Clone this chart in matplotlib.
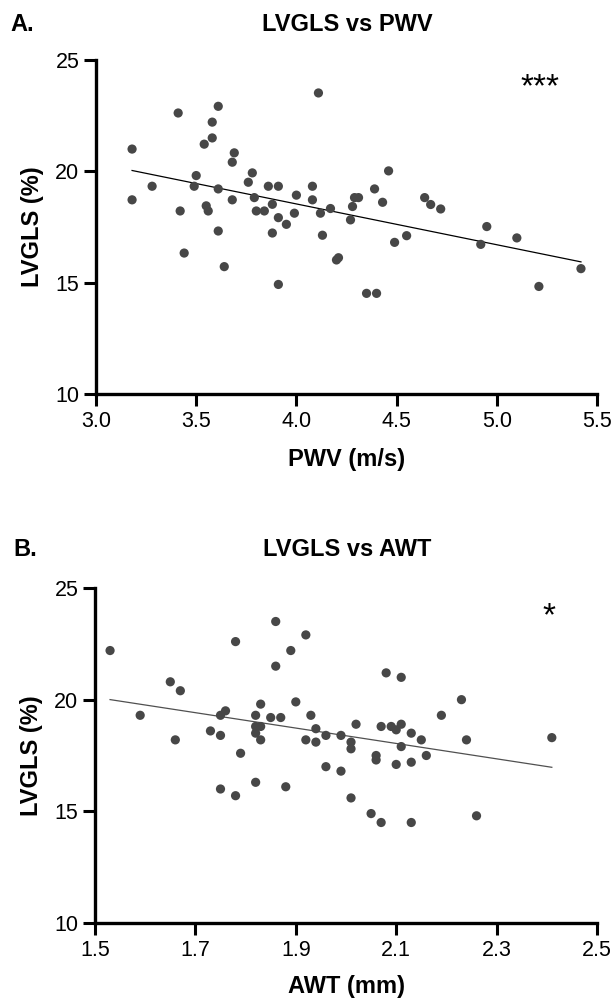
import numpy as np
import matplotlib
matplotlib.use("Agg")
import matplotlib.pyplot as plt

plt.rcParams['font.family'] = ['Liberation Sans', 'DejaVu Sans']

# ---------------- Panel A data: PWV (m/s) vs LVGLS (%) ----------------
pwv = [3.18, 3.18, 3.28, 3.41, 3.42, 3.44, 3.50, 3.49, 3.54, 3.55,
       3.56, 3.58, 3.58, 3.61, 3.61, 3.61, 3.64, 3.68, 3.69, 3.68,
       3.76, 3.78, 3.79, 3.80, 3.84, 3.86, 3.88, 3.88, 3.91, 3.91,
       3.91, 3.95, 3.99, 4.00, 4.08, 4.08, 4.11, 4.12, 4.13, 4.17,
       4.20, 4.21, 4.27, 4.28, 4.29, 4.31, 4.39, 4.43, 4.46, 4.49,
       4.55, 4.64, 4.67, 4.72, 4.92, 4.95, 5.10, 5.21, 5.42, 4.35,
       4.40]
lvgls_a = [21.0, 18.72, 19.33, 22.62, 18.22, 16.33, 19.81, 19.33, 21.22, 18.45,
           18.22, 21.50, 22.21, 22.92, 19.21, 17.32, 15.72, 20.41, 20.83, 18.72,
           19.51, 19.93, 18.82, 18.22, 18.22, 19.33, 18.52, 17.23, 19.33, 17.92,
           14.92, 17.62, 18.12, 18.93, 19.33, 18.72, 23.52, 18.12, 17.13, 18.33,
           16.02, 16.12, 17.82, 18.42, 18.82, 18.82, 19.21, 18.61, 20.02, 16.81,
           17.11, 18.82, 18.51, 18.31, 16.72, 17.52, 17.01, 14.83, 15.63, 14.52,
           14.52]

# ---------------- Panel B data: AWT (mm) vs LVGLS (%) ----------------
awt = [1.53, 1.59, 1.65, 1.67, 1.66, 1.73, 1.75, 1.76, 1.75, 1.75,
       1.78, 1.78, 1.79, 1.82, 1.83, 1.82, 1.83, 1.82, 1.83, 1.82,
       1.85, 1.87, 1.86, 1.86, 1.88, 1.89, 1.90, 1.92, 1.93, 1.94,
       1.92, 1.94, 1.96, 1.96, 1.99, 1.99, 2.01, 2.01, 2.01, 2.02,
       2.05, 2.07, 2.08, 2.11, 2.07, 2.09, 2.10, 2.11, 2.13, 2.11,
       2.06, 2.06, 2.10, 2.13, 2.15, 2.16, 2.19, 2.23, 2.24, 2.41,
       2.13, 2.26]
lvgls_b = [22.2, 19.3, 20.8, 20.4, 18.2, 18.6, 19.3, 19.5, 18.4, 16.0,
           22.6, 15.7, 17.6, 19.3, 19.8, 18.8, 18.8, 18.5, 18.2, 16.3,
           19.2, 19.2, 23.5, 21.5, 16.1, 22.2, 19.9, 22.9, 19.3, 18.7,
           18.2, 18.1, 18.4, 17.0, 18.4, 16.8, 18.1, 17.8, 15.6, 18.9,
           14.9, 14.5, 21.2, 21.0, 18.8, 18.8, 18.65, 18.9, 18.5, 17.9,
           17.5, 17.3, 17.1, 17.2, 18.2, 17.5, 19.3, 20.0, 18.2, 18.3,
           14.5, 14.8]

xticks_a = [3.0, 3.5, 4.0, 4.5, 5.0, 5.5]
xticks_b = [1.5, 1.7, 1.9, 2.1, 2.3, 2.5]
yticks = [10, 15, 20, 25]

W, H = 612, 1002
fig = plt.figure(figsize=(W / 100, H / 100), dpi=100)


def px_rect(left, top, right, bottom):
    return [left / W, 1 - bottom / H, (right - left) / W, (bottom - top) / H]


point_color = '#474747'
BOLD = 17


def style(ax):
    for s in ['top', 'right']:
        ax.spines[s].set_visible(False)
    for s in ['left', 'bottom']:
        ax.spines[s].set_linewidth(2.4)
        ax.spines[s].set_color('black')
    ax.tick_params(axis='both', direction='out', length=8.5, width=2.2,
                   labelsize=15.5, pad=3.5, colors='black')
    ax.set_ylim(10, 25)
    ax.set_yticks(yticks)
    ax.set_ylabel('LVGLS (%)', fontsize=BOLD, fontweight='bold', labelpad=8)


# Panel A
axA = fig.add_axes(px_rect(96, 60, 597, 394))
axA.scatter(pwv, lvgls_a, s=44, color=point_color, edgecolors='none', zorder=3, clip_on=False)
ka, ba = np.polyfit(pwv, lvgls_a, 1)
xa = np.array([min(pwv), max(pwv)])
axA.plot(xa, ka * xa + ba, color='black', lw=0.9, zorder=2)
axA.set_xlim(3.0, 5.5)
axA.set_xticks(xticks_a)
axA.set_xticklabels([f'{v:.1f}' for v in xticks_a])
style(axA)
axA.set_xlabel('PWV (m/s)', fontsize=BOLD, fontweight='bold', labelpad=12)
axA.text(5.215, 23.75, '***', fontsize=24, ha='center', va='center')

# Panel B
axB = fig.add_axes(px_rect(95, 588, 597, 923))
axB.scatter(awt, lvgls_b, s=44, color=point_color, edgecolors='none', zorder=3, clip_on=False)
kb, bb = np.polyfit(awt, lvgls_b, 1)
xb = np.array([min(awt), max(awt)])
axB.plot(xb, kb * xb + bb, color='#505050', lw=0.9, zorder=2)
axB.set_xlim(1.5, 2.5)
axB.set_xticks(xticks_b)
axB.set_xticklabels([f'{v:.1f}' for v in xticks_b])
style(axB)
axB.set_xlabel('AWT (mm)', fontsize=BOLD, fontweight='bold', labelpad=10)
axB.text(2.405, 23.7, '*', fontsize=24, ha='center', va='center')

# Titles and panel letters (baseline positions in pixels)
fig.text(347 / W, 1 - 31 / H, 'LVGLS vs PWV', fontsize=BOLD, fontweight='bold',
         ha='center', va='baseline')
fig.text(10 / W, 1 - 31 / H, 'A.', fontsize=BOLD, fontweight='bold', ha='left', va='baseline')
fig.text(347 / W, 1 - 556 / H, 'LVGLS vs AWT', fontsize=BOLD, fontweight='bold',
         ha='center', va='baseline')
fig.text(13 / W, 1 - 556 / H, 'B.', fontsize=BOLD, fontweight='bold', ha='left', va='baseline')

fig.savefig('out.png', dpi=100)
